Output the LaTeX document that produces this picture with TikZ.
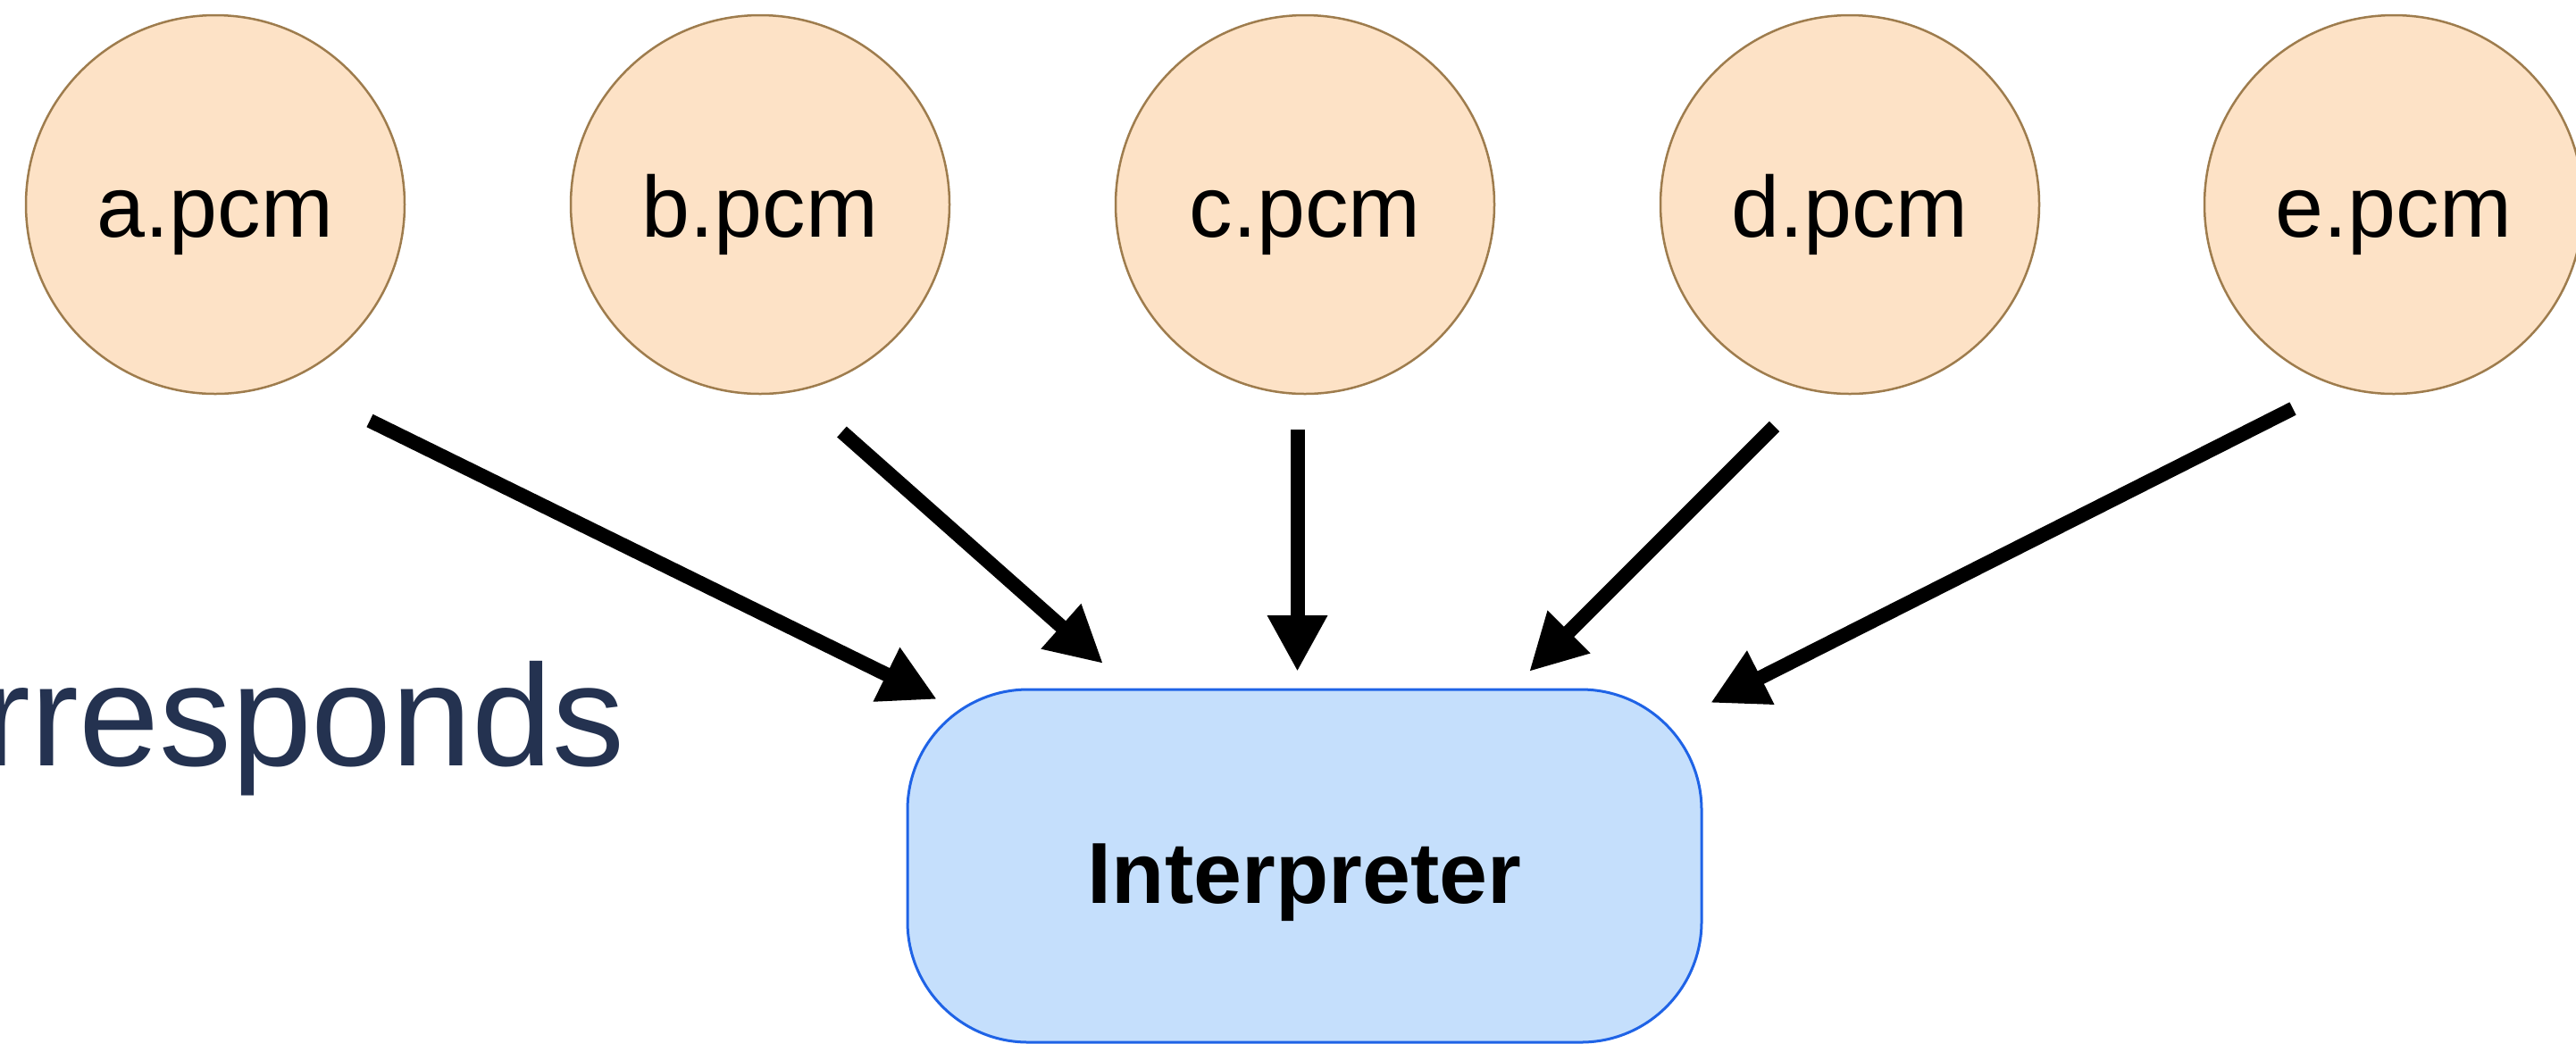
\documentclass[tikz,border=0pt]{standalone}
\usepackage{fontspec}
\setmainfont{Liberation Sans}
\usetikzlibrary{arrows.meta,calc,positioning}
\definecolor{ink}{HTML}{000000}
\definecolor{navy}{HTML}{243250}
\definecolor{pcmfill}{HTML}{FDE2C6}
\definecolor{pcmborder}{HTML}{9E7C4D}
\definecolor{interpfill}{HTML}{C5DFFC}
\definecolor{interpborder}{HTML}{1F63E6}

\begin{document}
\begin{tikzpicture}[
  pcm/.style={circle, draw=pcmborder, fill=pcmfill, line width=0.25mm, text=ink,
    minimum size=42.4mm, inner sep=0pt, font=\fontsize{27.6pt}{33pt}\selectfont,
    text height=21pt, text depth=0pt},
  interp/.style={draw=interpborder, fill=interpfill, line width=0.3mm, rounded corners=13.5mm,
    minimum width=88.9mm, minimum height=39.5mm, inner sep=0pt, text=ink,
    font=\fontsize{27.6pt}{33pt}\selectfont\bfseries, text height=23.7pt, text depth=0pt},
  sidenote/.style={text=navy, font=\fontsize{46pt}{52pt}\selectfont, inner sep=0pt, anchor=base west},
  flow/.style={-{Triangle[length=6.3mm, width=6.3mm]}, draw=ink, line width=1.6mm}
]
\useasboundingbox (0,0) rectangle (288.4mm,-116.8mm);

\node[pcm] (a) at (24.1mm,-22.9mm) {a.pcm};
\node[pcm] (b) at (85.1mm,-22.9mm) {b.pcm};
\node[pcm] (c) at (146.1mm,-22.9mm) {c.pcm};
\node[pcm] (d) at (207.1mm,-22.9mm) {d.pcm};
\node[pcm] (e) at (268.0mm,-22.9mm) {e.pcm};

\node[interp] (interp) at (146.05mm,-96.95mm) {Interpreter};

\node[sidenote] (note) at (-2mm,-85.7mm) {rresponds};

% loose ends of the arrows, kept clear of the shapes
\coordinate (a-out) at ($(a)+(17.3mm,-24.2mm)$);
\coordinate (b-out) at ($(b)+(9.15mm,-25.45mm)$);
\coordinate (c-out) at ($(c)+(-0.85mm,-25.2mm)$);
\coordinate (d-out) at ($(d)+(-8.45mm,-24.85mm)$);
\coordinate (e-out) at ($(e)+(-11.3mm,-22.85mm)$);

\coordinate (a-in) at ($(interp)+(-41.15mm,18.65mm)$);
\coordinate (b-in) at ($(interp)+(-22.55mm,22.65mm)$);
\coordinate (c-in) at ($(interp)+(-0.8mm,21.75mm)$);
\coordinate (d-in) at ($(interp)+(25.15mm,21.75mm)$);
\coordinate (e-in) at ($(interp)+(45.45mm,18.25mm)$);

\draw[flow] (a-out) -- (a-in);
\draw[flow] (b-out) -- (b-in);
\draw[flow] (c-out) -- (c-in);
\draw[flow] (d-out) -- (d-in);
\draw[flow] (e-out) -- (e-in);
\end{tikzpicture}
\end{document}
